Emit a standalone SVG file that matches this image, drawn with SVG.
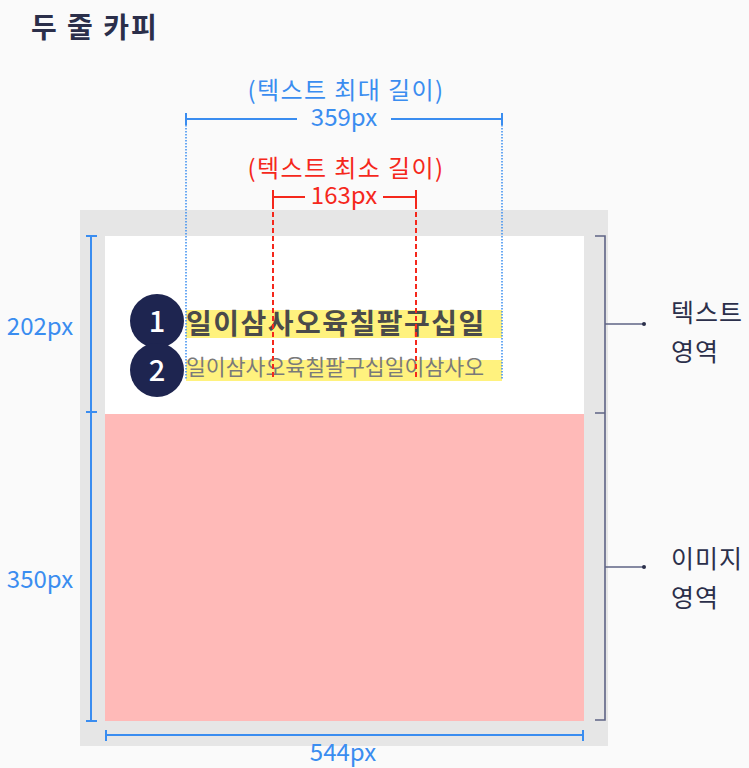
<svg xmlns="http://www.w3.org/2000/svg" width="749" height="768" viewBox="0 0 749 768">
<style>
text{font-family:"Noto Sans CJK KR","Noto Sans",sans-serif}
.blue{fill:#3a8df0}
.red{fill:#f5281c}
.bl{stroke:#3a8df0;stroke-width:2;fill:none}
.rl{stroke:#f5281c;stroke-width:2;fill:none}
.br{stroke:#5f6485;stroke-width:1.6;fill:none}
.lbl{fill:#2b2f4a;font-size:25px;letter-spacing:1px}
.dim{font-size:24px}
.cap{font-size:24px;letter-spacing:1.4px}
.num{fill:#fff;font-size:29px;font-weight:500}
</style>
<rect width="749" height="768" fill="#fafafa"/>
<text x="31" y="38" font-size="28" font-weight="bold" letter-spacing="2" fill="#2b2f4a">두 줄 카피</text>
<g id="panel">
<rect x="80" y="210" width="528" height="536" fill="#e6e6e6"/>
<rect x="105" y="236" width="479" height="178" fill="#ffffff"/>
<rect x="105" y="414" width="479" height="307" fill="#ffbab8"/>
</g>
<g id="text-lines">
<rect x="186" y="310" width="316" height="28" fill="#fff27e"/>
<rect x="186" y="360" width="316" height="21" fill="#fff27e"/>
<text x="186" y="334" font-size="28" font-weight="bold" letter-spacing="1.5" fill="#4a4a4a">일이삼사오육칠팔구십일</text>
<text x="186" y="375" font-size="21.6" fill="#7a7a7a">일이삼사오육칠팔구십일이삼사오</text>
</g>
<g id="connectors">
<path class="bl" d="M186 119H297M391 119H502M186 113V125M502 113V125"/>
<path d="M186 125V380M502 125V380" stroke="#3a8df0" stroke-width="1.5" stroke-dasharray="1.5 1.5" fill="none"/>
<path class="rl" d="M273 197H305M383 197H416M273 190V204M416 190V204"/>
<path d="M273 204V380M416 204V380" stroke="#f5281c" stroke-width="2" stroke-dasharray="5 3" fill="none"/>
<path class="bl" d="M91 236V721M86 236H97M86 412H97M86 721H97"/>
<path class="bl" d="M106 735H583M106 730V741M583 730V741"/>
<path class="br" d="M595 236H605V413H595M605 324H644M595 413H605V720H595M605 567H644"/>
<circle cx="644" cy="324" r="2" fill="#2b2f4a"/>
<circle cx="644" cy="567" r="2" fill="#2b2f4a"/>
</g>
<g id="badge1">
<circle cx="157" cy="321" r="27" fill="#1e2550"/>
<text class="num" x="157" y="332" text-anchor="middle">1</text>
</g>
<g id="badge2">
<circle cx="157" cy="370" r="27" fill="#1e2550"/>
<text class="num" x="157" y="381" text-anchor="middle">2</text>
</g>
<g id="labels">
<text class="blue cap" x="346" y="99" text-anchor="middle">(텍스트 최대 길이)</text>
<text class="blue dim" x="344" y="126" text-anchor="middle">359px</text>
<text class="red cap" x="346" y="177" text-anchor="middle">(텍스트 최소 길이)</text>
<text class="red dim" x="344" y="204" text-anchor="middle">163px</text>
<text class="blue dim" x="40" y="335" text-anchor="middle">202px</text>
<text class="blue dim" x="40" y="588" text-anchor="middle">350px</text>
<text class="blue dim" x="343" y="761" text-anchor="middle">544px</text>
<text class="lbl" x="671" y="322">텍스트</text>
<text class="lbl" x="671" y="361">영역</text>
<text class="lbl" x="671" y="568">이미지</text>
<text class="lbl" x="671" y="607">영역</text>
</g>
</svg>
